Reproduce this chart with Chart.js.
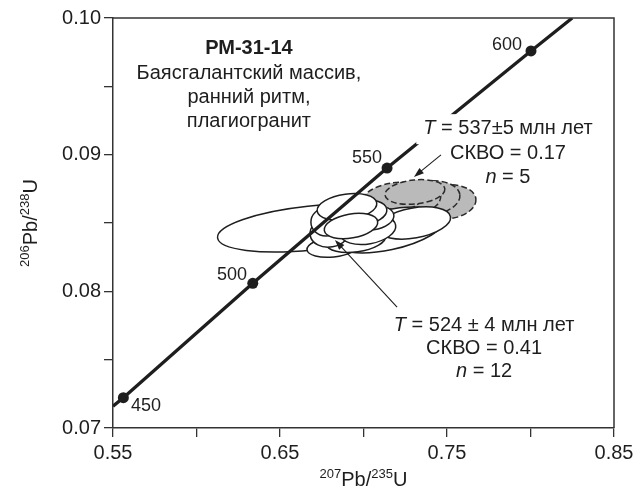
<!DOCTYPE html>
<html><head><meta charset="utf-8">
<script src="https://cdn.jsdelivr.net/npm/chart.js@4/dist/chart.umd.min.js"></script>
<style>html,body{margin:0;padding:0;background:#fff}#wrap{width:636px;height:492px}</style>
</head><body><div id="wrap"><canvas id="c" width="636" height="492"></canvas></div>
<script>
// ---- data ----
const xTickLabels = [0.55, 0.65, 0.75, 0.85];
const yTickLabels = [0.07, 0.08, 0.09, 0.10];
// concordia curve
const concordiaX = [0.550, 0.5562, 0.6337, 0.7141, 0.8003, 0.8250];
const concordiaY = [0.0716, 0.07222, 0.08059, 0.08902, 0.09759, 0.1000];
// age marks on the concordia (Ma)
const ageLabels = ['450', '500', '550', '600'];
const ageX = [0.5562, 0.6337, 0.7141, 0.8003];
const ageY = [0.07222, 0.08059, 0.08902, 0.09759];
// analyses: 207Pb/235U, 206Pb/238U, half-axes, tilt (deg), group
const grainX  = [0.7500, 0.7398, 0.7266, 0.7177, 0.7308,
                 0.6680, 0.7147, 0.7302, 0.6817, 0.6955, 0.6799, 0.6775, 0.7027, 0.7051, 0.6979, 0.6901, 0.6925];
const grainY  = [0.08654, 0.08683, 0.08668, 0.08683, 0.08727,
                 0.08463, 0.08449, 0.08500, 0.08324, 0.08376, 0.08434, 0.08507, 0.08449, 0.08537, 0.08573, 0.08617, 0.08478];
const grainSX = [0.0174, 0.0180, 0.0198, 0.0192, 0.0180,
                 0.0557, 0.0347, 0.0222, 0.0156, 0.0180, 0.0120, 0.0090, 0.0168, 0.0132, 0.0162, 0.0180, 0.0162];
const grainSY = [0.00124, 0.00124, 0.00124, 0.00110, 0.00088,
                 0.00161, 0.00146, 0.00110, 0.00073, 0.00088, 0.00110, 0.00102, 0.00102, 0.00088, 0.00095, 0.00095, 0.00088];
const grainTilt = [-6, -6, -8, -10, -6,
                   -6, -12, -10, -6, -8, -10, 0, -10, -8, -8, -8, -10];
const grainGroup = ['b','b','b','b','b',
                    'a','a','a','a','a','a','a','a','a','a','a','a'];

const FONT = '"Liberation Sans", Arial, sans-serif';
const INK = '#1e1e1e';

const ellipsePlugin = {
  id: 'ellipses',
  beforeDatasetsDraw(chart) {
    const {ctx, chartArea: a, scales: {x, y}} = chart;
    ctx.save();
    ctx.beginPath(); ctx.rect(a.left, a.top, a.right - a.left, a.bottom - a.top); ctx.clip();
    for (let i = 0; i < grainX.length; i++) {
      const px = x.getPixelForValue(grainX[i]), py = y.getPixelForValue(grainY[i]);
      const rx = Math.abs(x.getPixelForValue(grainX[i] + grainSX[i]) - px);
      const ry = Math.abs(y.getPixelForValue(grainY[i] + grainSY[i]) - py);
      ctx.beginPath();
      ctx.ellipse(px, py, rx, ry, grainTilt[i] * Math.PI / 180, 0, Math.PI * 2);
      if (grainGroup[i] === 'b') {
        ctx.fillStyle = '#bababa'; ctx.fill();
        ctx.setLineDash([6, 3]); ctx.strokeStyle = '#2a2a2a'; ctx.lineWidth = 1.5; ctx.stroke();
        ctx.setLineDash([]);
      } else {
        ctx.fillStyle = '#ffffff'; ctx.fill();
        ctx.strokeStyle = INK; ctx.lineWidth = 1.5; ctx.stroke();
      }
    }
    ctx.restore();
  }
};

function drawParts(ctx, parts, cx, baseline) {
  let w = 0;
  parts.forEach(p => { ctx.font = p[1]; w += ctx.measureText(p[0]).width; });
  let xx = cx - w / 2;
  ctx.textAlign = 'left'; ctx.textBaseline = 'alphabetic';
  parts.forEach(p => { ctx.font = p[1]; ctx.fillText(p[0], xx, baseline); xx += ctx.measureText(p[0]).width; });
}
function arrow(ctx, x1, y1, x2, y2) {
  const ang = Math.atan2(y2 - y1, x2 - x1), L = 10, W = 3.5;
  ctx.beginPath(); ctx.moveTo(x1, y1); ctx.lineTo(x2 - L * Math.cos(ang) * 0.8, y2 - L * Math.sin(ang) * 0.8);
  ctx.lineWidth = 1.1; ctx.strokeStyle = INK; ctx.stroke();
  ctx.beginPath(); ctx.moveTo(x2, y2);
  ctx.lineTo(x2 - L * Math.cos(ang) + W * Math.sin(ang), y2 - L * Math.sin(ang) - W * Math.cos(ang));
  ctx.lineTo(x2 - L * Math.cos(ang) - W * Math.sin(ang), y2 - L * Math.sin(ang) + W * Math.cos(ang));
  ctx.closePath(); ctx.fillStyle = INK; ctx.fill();
}

const notesPlugin = {
  id: 'notes',
  afterDatasetsDraw(chart) {
    const {ctx, scales: {x, y}} = chart;
    const X = v => x.getPixelForValue(v), Y = v => y.getPixelForValue(v);
    const R = '20px ' + FONT, I = 'italic 20px ' + FONT, B = 'bold 20px ' + FONT;
    ctx.save();
    ctx.fillStyle = INK;
    // sample title
    const tx = X(0.6314);
    drawParts(ctx, [['РМ-31-14', B]], tx, Y(0.09737));
    drawParts(ctx, [['Баясгалантский массив,', R]], tx, Y(0.09554));
    drawParts(ctx, [['ранний ритм,', R]], tx, Y(0.09378));
    drawParts(ctx, [['плагиогранит', R]], tx, Y(0.09203));
    // upper age block with white backing
    const ux = X(0.7865), ub = Y(0.09150);
    const parts1 = [['T', I], [' = 537±5 млн лет', R]];
    let w = 0; parts1.forEach(p => { ctx.font = p[1]; w += ctx.measureText(p[0]).width; });
    ctx.fillStyle = '#fff'; ctx.fillRect(ux - w / 2 - 7, ub - 20, w + 14, 30);
    ctx.fillStyle = INK;
    drawParts(ctx, parts1, ux, ub);
    drawParts(ctx, [['СКВО = 0.17', R]], ux, Y(0.08969));
    drawParts(ctx, [['n', I], [' = 5', R]], ux, Y(0.08793));
    // lower age block
    const lx = X(0.7722);
    drawParts(ctx, [['T', I], [' = 524 ± 4 млн лет', R]], lx, Y(0.07710));
    drawParts(ctx, [['СКВО = 0.41', R]], lx, Y(0.07541));
    drawParts(ctx, [['n', I], [' = 12', R]], lx, Y(0.07373));
    // arrows
    arrow(ctx, X(0.7464), Y(0.08998), X(0.7302), Y(0.08837));
    arrow(ctx, X(0.7201), Y(0.07885), X(0.6829), Y(0.08376));
    // age labels
    ctx.font = '18px ' + FONT; ctx.textAlign = 'center'; ctx.textBaseline = 'middle'; ctx.fillStyle = INK;
    const lp = [[0.5698, 0.07161], [0.6213, 0.08120], [0.7021, 0.08976], [0.7859, 0.09802]];
    ageLabels.forEach((t, i) => ctx.fillText(t, X(lp[i][0]), Y(lp[i][1])));
    ctx.restore();
  },
  afterDraw(chart) {
    const {ctx, chartArea: a} = chart;
    ctx.save();
    ctx.strokeStyle = '#333'; ctx.lineWidth = 1.5;
    ctx.beginPath();
    ctx.moveTo(a.left, a.top); ctx.lineTo(a.right, a.top); ctx.lineTo(a.right, a.bottom);
    ctx.stroke();
    ctx.fillStyle = INK;
    const big = '20px ' + FONT, sup = '13px ' + FONT;
    // x title
    const xparts = [['207', sup, -8], ['Pb/', big, 0], ['235', sup, -8], ['U', big, 0]];
    let w = 0; xparts.forEach(p => { ctx.font = p[1]; w += ctx.measureText(p[0]).width; });
    let xx = (a.left + a.right) / 2 - w / 2;
    ctx.textAlign = 'left'; ctx.textBaseline = 'alphabetic';
    xparts.forEach(p => { ctx.font = p[1]; ctx.fillText(p[0], xx, 486 + p[2]); xx += ctx.measureText(p[0]).width; });
    // y title
    ctx.translate(37, (a.top + a.bottom) / 2);
    ctx.rotate(-Math.PI / 2);
    const yparts = [['206', sup, -8], ['Pb/', big, 0], ['238', sup, -8], ['U', big, 0]];
    w = 0; yparts.forEach(p => { ctx.font = p[1]; w += ctx.measureText(p[0]).width; });
    xx = -w / 2;
    yparts.forEach(p => { ctx.font = p[1]; ctx.fillText(p[0], xx, p[2]); xx += ctx.measureText(p[0]).width; });
    ctx.restore();
  }
};

const near = (arr, v) => arr.some(t => Math.abs(t - v) < 1e-6);

new Chart(document.getElementById('c'), {
  type: 'scatter',
  data: {
    datasets: [
      {
        data: concordiaX.map((v, i) => ({x: v, y: concordiaY[i]})),
        showLine: true, borderColor: INK, borderWidth: 3.3, pointRadius: 0, tension: 0
      },
      {
        data: ageX.map((v, i) => ({x: v, y: ageY[i]})),
        showLine: false, pointRadius: 5.5, pointBackgroundColor: INK, pointBorderWidth: 0
      }
    ]
  },
  options: {
    responsive: false, animation: false, events: [],
    layout: {padding: {left: 0, top: 18, right: 22, bottom: 0}},
    plugins: {legend: {display: false}, tooltip: {enabled: false}},
    scales: {
      x: {
        type: 'linear', min: 0.55, max: 0.85,
        afterFit(s) { s.height = 64; s.paddingLeft = 0; s.paddingRight = 0; },
        ticks: {
          stepSize: 0.05, autoSkip: false, maxRotation: 0, padding: 4,
          color: INK, font: {family: FONT, size: 20},
          callback: v => near(xTickLabels, v) ? v.toFixed(2) : ''
        },
        grid: {drawOnChartArea: false, drawTicks: true, tickLength: 9, color: '#333', lineWidth: 1.3},
        border: {display: true, color: '#333', width: 1.5}
      },
      y: {
        type: 'linear', min: 0.07, max: 0.10,
        afterFit(s) { s.width = 113; s.paddingTop = 0; s.paddingBottom = 0; },
        ticks: {
          stepSize: 0.005, autoSkip: false, padding: 3,
          color: INK, font: {family: FONT, size: 20},
          callback: v => near(yTickLabels, v) ? v.toFixed(2) : ''
        },
        grid: {drawOnChartArea: false, drawTicks: true, tickLength: 9, color: '#333', lineWidth: 1.3},
        border: {display: true, color: '#333', width: 1.5}
      }
    }
  },
  plugins: [ellipsePlugin, notesPlugin]
});
</script>
</body></html>
